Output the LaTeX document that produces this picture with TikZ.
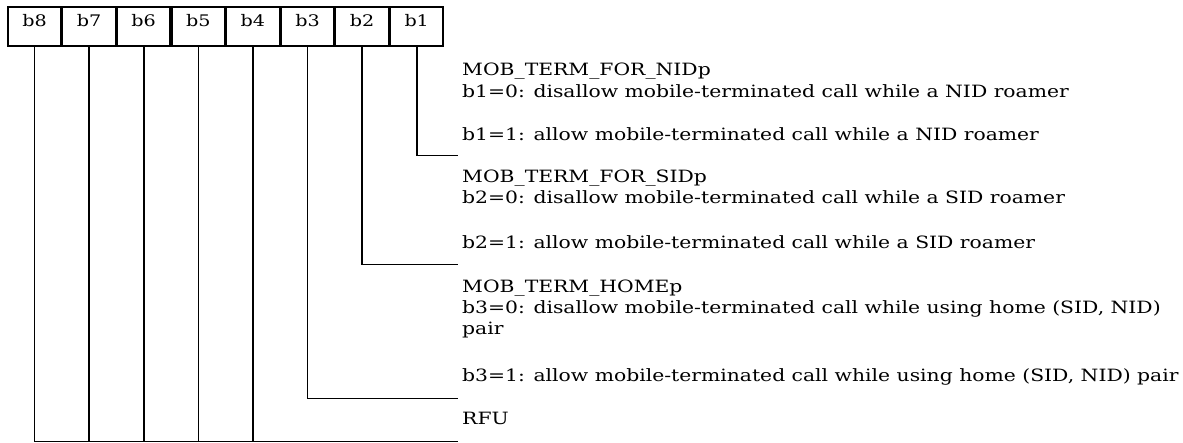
\documentclass[tikz,border=0pt]{standalone}
\usepackage{fontspec}
\setmainfont{DejaVu Serif}[FakeStretch=1.2]
\usetikzlibrary{positioning}
\tikzset{bitbox/.style={rectangle, draw, line width=1.6bp, minimum width=53bp, minimum height=39bp, inner sep=0pt, text height=12bp, text depth=12bp, font=\fontsize{16}{19}\selectfont}}
\tikzset{desc/.style={anchor=base west, inner sep=0pt, font=\fontsize{17}{20}\selectfont}}
\tikzset{wire/.style={line width=1.6bp}}

\begin{document}
\begin{tikzpicture}[x=1bp, y=-1bp, node distance=0pt]
  \useasboundingbox (0,0) rectangle (1183,443);
  \node[bitbox] (b8) at (34.5,26.5) {b8};
  \node[bitbox, right=of b8] (b7) {b7};
  \node[bitbox, right=of b7] (b6) {b6};
  \node[bitbox, right=of b6] (b5) {b5};
  \node[bitbox, right=of b5] (b4) {b4};
  \node[bitbox, right=of b4] (b3) {b3};
  \node[bitbox, right=of b3] (b2) {b2};
  \node[bitbox, right=of b2] (b1) {b1};

  \node[desc] (nid-head) at (462,76) {MOB\_TERM\_FOR\_NIDp};
  \node[desc] (nid-0) at (462,98) {b1=0: disallow mobile-terminated call while a NID roamer};
  \node[desc] (nid-1) at (462,141) {b1=1: allow mobile-terminated call while a NID roamer};

  \node[desc] (sid-head) at (462,183) {MOB\_TERM\_FOR\_SIDp};
  \node[desc] (sid-0) at (462,204) {b2=0: disallow mobile-terminated call while a SID roamer};
  \node[desc] (sid-1) at (462,249) {b2=1: allow mobile-terminated call while a SID roamer};

  \node[desc] (home-head) at (462,293) {MOB\_TERM\_HOMEp};
  \node[desc] (home-0) at (462,314) {b3=0: disallow mobile-terminated call while using home (SID, NID)};
  \node[desc] (home-0b) at (462,335) {pair};
  \node[desc] (home-1) at (462,382) {b3=1: allow mobile-terminated call while using home (SID, NID) pair};

  \node[desc] (rfu) at (462,425) {RFU};

  \coordinate (e1) at (458,155.5);
  \coordinate (e2) at (458,264.5);
  \coordinate (e3) at (458,398.5);
  \coordinate (e4) at (458,441.5);

  \draw[wire] (b1.south) |- (e1);
  \draw[wire] (b2.south) |- (e2);
  \draw[wire] (b3.south) |- (e3);
  \draw[wire] (b8.south) |- (e4);
  \draw[wire] (b7.south) -- (b7.south |- e4);
  \draw[wire] (b6.south) -- (b6.south |- e4);
  \draw[wire] (b5.south) -- (b5.south |- e4);
  \draw[wire] (b4.south) -- (b4.south |- e4);
\end{tikzpicture}
\end{document}
